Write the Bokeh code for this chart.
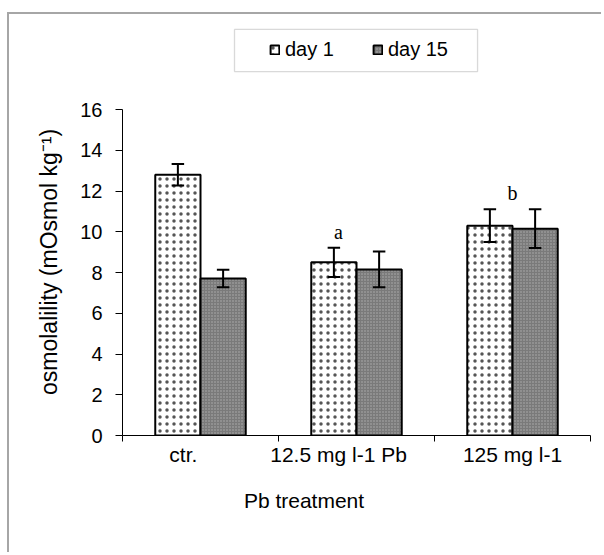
from bokeh.plotting import figure
from bokeh.models import Range1d, FixedTicker, Legend, LegendItem, BoxAnnotation
from bokeh.core.properties import value
from bokeh.embed import file_html
from bokeh.resources import INLINE

categories = ["ctr.", "12.5 mg l-1 Pb", "125 mg l-1"]
series = ["day 1", "day 15"]
day1 = [12.8, 8.5, 10.3]
day1_err = [0.53, 0.72, 0.8]
day15 = [7.7, 8.15, 10.15]
day15_err = [0.43, 0.88, 0.95]
letters = ["", "a", "b"]
y_ticks = [0, 2, 4, 6, 8, 10, 12, 14, 16]

SANS = "Liberation Sans"
SERIF = "Liberation Serif"

PX_PER_UNIT = 20.375
FRAME_H = 411
y_top = FRAME_H / PX_PER_UNIT

p = figure(width=594, height=540, x_range=Range1d(0, 3), y_range=Range1d(0, y_top),
           output_backend="svg", toolbar_location=None,
           min_border_left=113, min_border_right=13, min_border_top=10, min_border_bottom=119)
p.styles = {"margin-left": "7px", "margin-top": "12px",
            "border-top": "2px solid #a6a6a6", "border-left": "2px solid #a6a6a6"}
p.outline_line_color = None
p.xgrid.visible = False
p.ygrid.visible = False
p.background_fill_color = "white"

n = len(categories)
off1, off2, bw = 0.355, 0.645, 0.29
x1 = [i + off1 for i in range(n)]
x2 = [i + off2 for i in range(n)]

r1 = p.vbar(x=x1, top=day1, width=bw, bottom=0, fill_color="white", line_color="black", line_width=2,
            hatch_pattern="dot", hatch_color="#555555", hatch_scale=7, hatch_weight=1.4)
r2 = p.vbar(x=x2, top=day15, width=bw, bottom=0, fill_color="#7a7a7a", line_color="black", line_width=2,
            hatch_pattern="dot", hatch_color="#b0b0b0", hatch_scale=3, hatch_weight=1)

cap = 0.04
for xs, vals, errs in ((x1, day1, day1_err), (x2, day15, day15_err)):
    lo = [v - e for v, e in zip(vals, errs)]
    hi = [v + e for v, e in zip(vals, errs)]
    p.segment(x0=xs, y0=lo, x1=xs, y1=hi, line_color="black", line_width=2)
    p.segment(x0=[x - cap for x in xs], y0=hi, x1=[x + cap for x in xs], y1=hi, line_color="black", line_width=2)
    p.segment(x0=[x - cap for x in xs], y0=lo, x1=[x + cap for x in xs], y1=lo, line_color="black", line_width=2)

label_pos = [0.39, 1.385, 2.5]

# significance letters
lx, ly, lt = [], [], []
for i, t in enumerate(letters):
    if t:
        top = max(day1[i] + day1_err[i], day15[i] + day15_err[i])
        lx.append(label_pos[i])
        ly.append(top + 0.78)
        lt.append(t)
p.text(x=lx, y=ly, text=lt, text_font=value(SERIF), text_font_size="20px", text_align="center",
       text_baseline="middle", text_color="black")

# y axis
ya = p.yaxis[0]
ya.ticker = FixedTicker(ticks=y_ticks)
ya.bounds = (0, 16)
ya.minor_tick_line_color = None
ya.major_tick_out = 7
ya.major_tick_in = 0
ya.major_label_standoff = 13
ya.major_label_text_font = SANS
ya.major_label_text_font_size = "20px"
ya.major_label_text_color = "black"
ya.axis_line_color = "black"
ya.major_tick_line_color = "black"
ya.axis_label = "osmolalility (mOsmol kg\u207b\u00b9)" + "\u00a0" * 10
ya.axis_label_text_font = SANS
ya.axis_label_text_font_size = "23px"
ya.axis_label_text_font_style = "normal"
ya.axis_label_text_color = "black"
ya.axis_label_standoff = 15

# x axis
xa = p.xaxis[0]
xa.ticker = FixedTicker(ticks=label_pos, minor_ticks=[0, 1, 2, 3])
xa.major_label_overrides = {pos: c for pos, c in zip(label_pos, categories)}
xa.major_tick_out = 0
xa.major_tick_in = 0
xa.minor_tick_out = 6
xa.minor_tick_in = 0
xa.minor_tick_line_color = "black"
xa.major_label_standoff = 1
xa.major_label_text_font = SANS
xa.major_label_text_font_size = "21px"
xa.major_label_text_color = "black"
xa.axis_line_color = "black"
xa.axis_label = "Pb treatment" + "\u00a0" * 18
xa.axis_label_text_font = SANS
xa.axis_label_text_font_size = "21px"
xa.axis_label_text_font_style = "normal"
xa.axis_label_text_color = "black"
xa.axis_label_standoff = 20

legend = Legend(items=[LegendItem(label=series[0], renderers=[r1]), LegendItem(label=series[1], renderers=[r2])],
                orientation="horizontal", location=(147, 374), padding=0, margin=0, spacing=38,
                glyph_width=11, glyph_height=11, label_standoff=5,
                label_text_font=SANS, label_text_font_size="20px", label_text_color="black",
                border_line_alpha=0, background_fill_alpha=0)
p.add_layout(legend)

p.add_layout(BoxAnnotation(left=0.718, right=2.276, top=19.93, bottom=17.86, fill_alpha=0,
                           line_color="#808080", line_width=1.3))

open("out.html", "w").write(file_html(p, INLINE))
